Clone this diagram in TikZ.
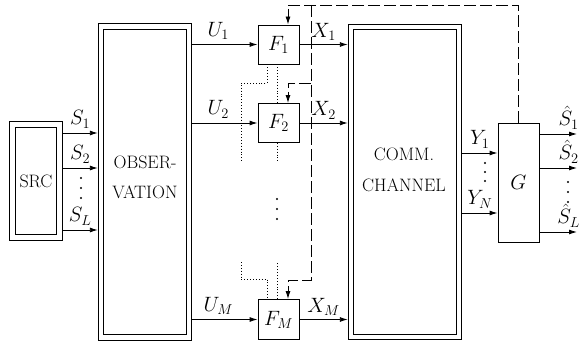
\documentclass[tikz,border=0pt]{standalone}
\usepackage{amsmath}
\usetikzlibrary{arrows.meta, calc}

\begin{document}
\begin{tikzpicture}[x=1pt, y=-1pt, line width=0.9pt,
    every node/.style={font=\fontsize{18}{21}\selectfont}]
    \tikzset{blk/.style={rectangle, draw, inner sep=0pt, align=center},
             dblk/.style={blk, double, double distance=4.5pt, outer sep=3.2pt},
             lbl/.style={font=\fontsize{21}{24}\selectfont, inner sep=1.5pt},
             sig/.style={-{Latex[length=8pt,width=5pt]}},
             fb/.style={dash pattern=on 12pt off 4pt},
             aux/.style={line width=0.8pt, dash pattern=on 0.9pt off 2pt}}
    \useasboundingbox (0,0) rectangle (579,345);
    % blocks
    \node[dblk, minimum width=47pt, minimum height=113pt] (src) at (36,181) {SRC};
    \node[dblk, minimum width=88pt, minimum height=311pt] (obs) at (145,182) {};
    \node[align=center] (obslbl) at (145,177) {OBSER-\\[9pt]VATION};
    \node[dblk, minimum width=108pt, minimum height=310pt] (chan) at (405,182) {};
    \node[align=center] (chanlbl) at (404,170) {COMM.\\[10pt]CHANNEL};
    \node[blk, lbl, minimum width=41pt, minimum height=39pt] (f1) at (278.5,44.5) {$F_1$};
    \node[blk, lbl, minimum width=41pt, minimum height=39pt] (f2) at (278.5,123) {$F_2$};
    \node[blk, lbl, minimum width=41pt, minimum height=40pt] (fm) at (278.5,319.5) {$F_M$};
    \node[blk, lbl, minimum width=41pt, minimum height=119pt] (g) at (518.5,182.5) {$G$};
    \coordinate (out) at (577,0);
    \coordinate (bus) at (311,5);
    % sources into observation
    \foreach \y/\t in {133/S_1, 168/S_2, 230/S_L}
      \draw[sig] (src.east |- 0,\y) -- (obs.west |- 0,\y)
        node[lbl, midway, above=3pt] {$\t$};
    \foreach \y in {178,188,198}
      \fill (81,\y) circle (1.1pt);
    % encoders
    \foreach \f/\u/\x in {f1/U_1/X_1, f2/U_2/X_2, fm/U_M/X_M} {
      \draw[sig] (obs.east |- \f.west) -- (\f.west) node[lbl, pos=0.4, above=3pt] {$\u$};
      \draw[sig] (\f.east) -- (\f.east -| chan.west) node[lbl, midway, above=2pt] {$\x$};
    }
    \foreach \y in {199,209,219}
      \fill (277,\y) circle (1.1pt);
    % channel outputs into decoder
    \foreach \y/\t in {153/Y_1, 213/Y_N}
      \draw[sig] (chan.east |- 0,\y) -- (g.west |- 0,\y) node[lbl, midway, above=3pt] {$\t$};
    \foreach \y in {163,172,181}
      \fill (485,\y) circle (1.1pt);
    \foreach \y/\t in {134/\hat{S}_1, 168/\hat{S}_2, 232/\hat{S}_L}
      \draw[sig] (g.east |- 0,\y) -- (out |- 0,\y) node[lbl, pos=0.78, above=3pt] {$\t$};
    \foreach \y in {182,192,202}
      \fill (568,\y) circle (1.1pt);
    % feedback
    \draw[fb, sig] (g.north) -- (g.north |- bus) -- ([xshift=9.5pt]f1.north |- bus)
      -- ([xshift=9.5pt]f1.north);
    \draw[fb, sig] (bus |- 0,83) -- ([xshift=9.5pt]f2.north |- 0,83) -- ([xshift=9.5pt]f2.north);
    \draw[fb, sig] (bus) |- ([xshift=9.5pt]fm.north |- 0,280) -- ([xshift=9.5pt]fm.north);
    % side information
    \draw[aux] ([xshift=-11.5pt]f1.south) |- (241,83) -- (241,162);
    \draw[aux] ([xshift=-1.5pt]f1.south) -- ([xshift=-1.5pt]f2.north);
    \draw[aux] ([xshift=-1.5pt]f2.south) -- ++(0,19);
    \draw[aux] (241,262) |- ([xshift=-11.5pt]fm.north |- 0,279) -- ([xshift=-11.5pt]fm.north);
    \draw[aux] ([xshift=-1.5pt]fm.north) -- ++(0,-37);
\end{tikzpicture}
\end{document}
